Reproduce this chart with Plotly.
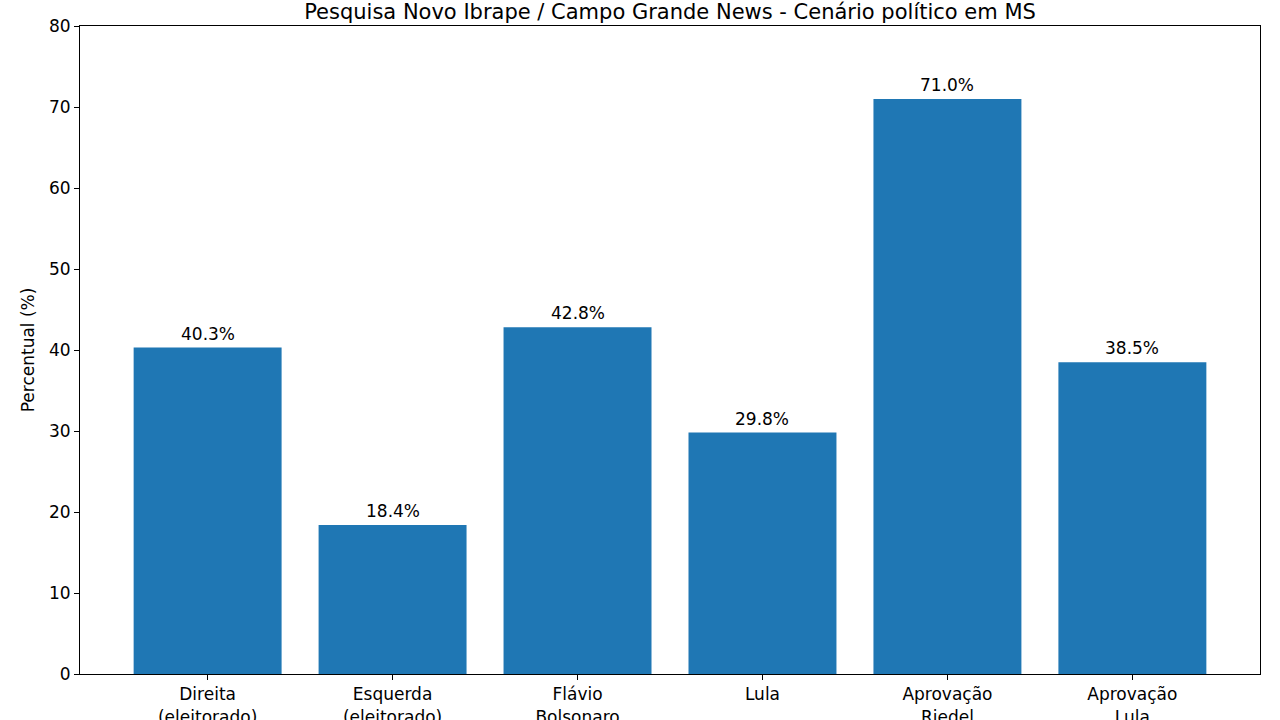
import plotly.graph_objects as go

categories = ["Direita<br>(eleitorado)", "Esquerda<br>(eleitorado)", "Flávio<br>Bolsonaro",
              "Lula", "Aprovação<br>Riedel", "Aprovação<br>Lula"]
values = [40.3, 18.4, 42.8, 29.8, 71.0, 38.5]
value_labels = ["40.3%", "18.4%", "42.8%", "29.8%", "71.0%", "38.5%"]
title_text = "Pesquisa Novo Ibrape / Campo Grande News - Cenário político em MS"
y_ticks = [0, 10, 20, 30, 40, 50, 60, 70, 80]

FONT = "DejaVu Sans"
FS = 17
positions = list(range(len(categories)))

fig = go.Figure()
fig.add_trace(go.Bar(x=positions, y=values, marker=dict(color="#1f77b4", line=dict(width=0)),
                     width=0.8, hoverinfo="skip"))

for p, v, lab in zip(positions, values, value_labels):
    fig.add_annotation(x=p, y=v, text=lab, showarrow=False, yanchor="bottom",
                       yshift=2, font=dict(family=FONT, size=FS, color="#000"))

fig.update_layout(
    width=1280, height=720,
    margin=dict(l=80, r=20, t=26, b=46),
    paper_bgcolor="white", plot_bgcolor="white",
    showlegend=False,
    font=dict(family=FONT, size=FS, color="#000"),
    title=dict(text=title_text, x=0.5, xanchor="center", xref="paper",
               y=1 - 12 / 720, yref="container", yanchor="middle",
               font=dict(family=FONT, size=21, color="#000")),
    xaxis=dict(range=[-0.69, 5.69], tickmode="array", tickvals=positions, ticktext=categories,
               showline=True, linecolor="#000", linewidth=1, mirror=True, automargin=False,
               ticks="outside", ticklen=5, tickcolor="#000", showgrid=False, zeroline=False,
               tickfont=dict(family=FONT, size=FS, color="#000")),
    yaxis=dict(range=[0, 80], tickmode="array", tickvals=y_ticks,
               showline=True, linecolor="#000", linewidth=1, mirror=True, automargin=False,
               ticks="outside", ticklen=5, tickcolor="#000", showgrid=False, zeroline=False,
               title=dict(text="Percentual (%)", standoff=10, font=dict(family=FONT, size=FS, color="#000")),
               tickfont=dict(family=FONT, size=FS, color="#000")),
)

fig.write_html("out.html")
